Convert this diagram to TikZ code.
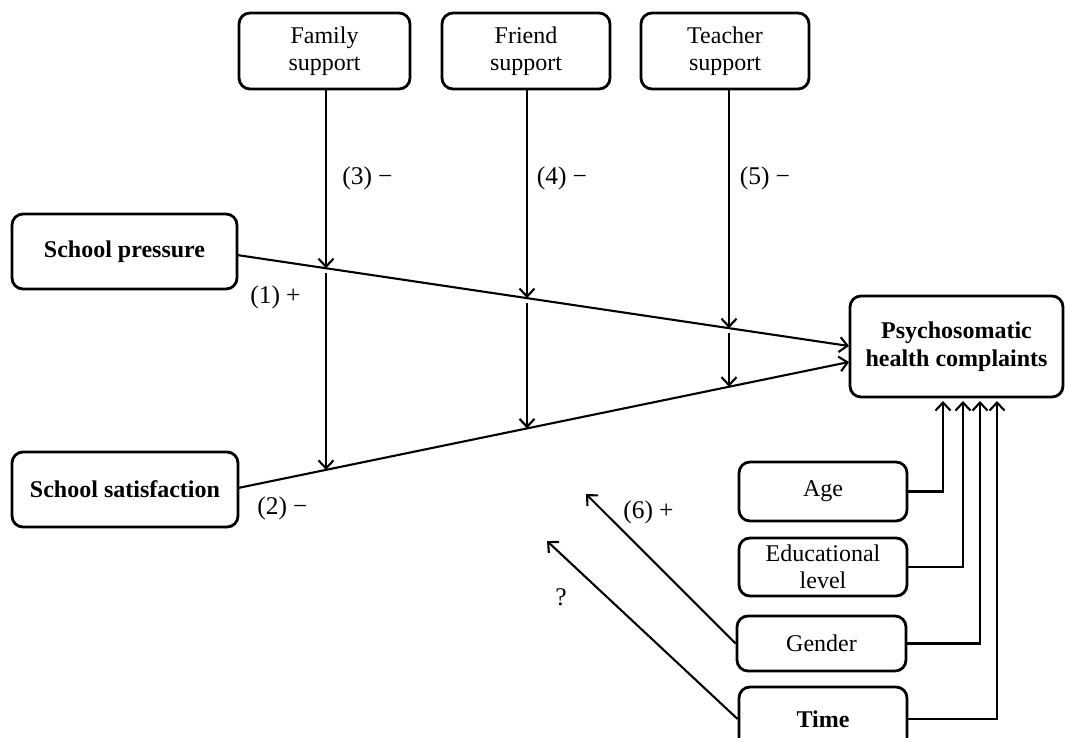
\documentclass[tikz,border=0pt]{standalone}
\usepackage{fontspec}
\setmainfont{Liberation Serif}
\usetikzlibrary{arrows.meta}
\tikzset{
  box/.style={draw, line width=2.8pt, rounded corners=11pt, inner sep=0pt, align=center,
    font=\fontsize{24}{27}\selectfont},
  bbox/.style={box, font=\fontsize{24}{28}\selectfont\bfseries},
  conn/.style={line width=2.1pt, -{Straight Barb[length=8pt,width=15pt,line width=2.1pt]}},
  lab/.style={inner sep=0pt, font=\fontsize{25.5}{28}\selectfont}
}
\begin{document}
\begin{tikzpicture}[x=1pt,y=-1pt]
\useasboundingbox (0,0) rectangle (1065,737);
% boxes
\node[box, minimum width=171pt, minimum height=76pt] (fam) at (324.5,51) {Family\\support};
\node[box, minimum width=168pt, minimum height=76pt] (fri) at (526,51) {Friend\\support};
\node[box, minimum width=168pt, minimum height=76pt] (tea) at (725,51) {Teacher\\support};
\node[bbox, minimum width=225pt, minimum height=75pt] (sp) at (124.5,251.5) {School pressure};
\node[bbox, minimum width=226pt, minimum height=75pt] (ss) at (125,489.5) {School satisfaction};
\node[bbox, minimum width=213pt, minimum height=101pt] (psy) at (956.5,346.5) {Psychosomatic\\health complaints};
\node[box, minimum width=168pt, minimum height=59pt] (age) at (823,491.5) {Age};
\node[box, minimum width=168pt, minimum height=58pt] (edu) at (823,567) {Educational\\level};
\node[box, minimum width=169pt, minimum height=55pt] (gen) at (821.5,643.5) {Gender};
\node[bbox, minimum width=168pt, minimum height=64pt] (tim) at (823,719) {Time};
% points on the main paths
\coordinate (spo) at (237,255);
\coordinate (psi1) at (849,346);
\coordinate (sso) at (238,488);
\coordinate (psi2) at (849,362);
\coordinate (p1) at (326,268.2);
\coordinate (p2) at (527,298.1);
\coordinate (p3) at (729,328.2);
\coordinate (q1) at (326,469.9);
\coordinate (q2) at (527,428.4);
\coordinate (q3) at (729,386.7);
% main paths
\draw[conn] (spo) -- (psi1);
\draw[conn] (sso) -- (psi2);
% moderators
\draw[conn] (fam.south -| p1) -- (p1);
\draw[conn] ([yshift=-5pt]p1) -- (q1);
\draw[conn] (fri.south -| p2) -- (p2);
\draw[conn] ([yshift=-5pt]p2) -- (q2);
\draw[conn] (tea.south -| p3) -- (p3);
\draw[conn] ([yshift=-5pt]p3) -- (q3);
% controls
\coordinate (c1) at (943,401);
\coordinate (c2) at (963,401);
\coordinate (c3) at (980,401);
\coordinate (c4) at (997,401);
\draw[conn] (age.east) -| (c1);
\draw[conn] (edu.east) -| (c2);
\draw[conn] (gen.east) -| (c3);
\draw[conn] (tim.east) -| (c4);
% diagonal arrows
\coordinate (g6) at (586,494);
\coordinate (tq) at (547,541);
\draw[conn] (gen.west) -- (g6);
\draw[conn] (tim.west) -- (tq);
% labels
\node[lab] (l3) at (367.5,178) {(3)\hspace{6pt}−};
\node[lab] (l4) at (562,178) {(4)\hspace{6pt}−};
\node[lab] (l5) at (765,178) {(5)\hspace{6pt}−};
\node[lab] (l1) at (275.5,297) {(1)\hspace{6pt}+};
\node[lab] (l2) at (282.5,508) {(2)\hspace{6pt}−};
\node[lab] (l6) at (648.5,512) {(6)\hspace{6pt}+};
\node[lab] (lq) at (561,597) {?};
\end{tikzpicture}
\end{document}
